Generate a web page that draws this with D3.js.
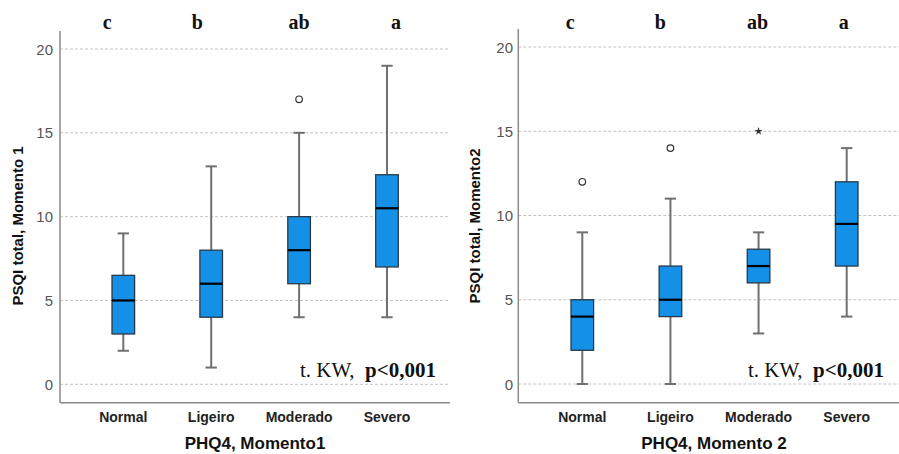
<!DOCTYPE html>
<html>
<head>
<meta charset="utf-8">
<script src="https://cdn.jsdelivr.net/npm/d3@7"></script>
<style>
  body { margin: 0; background: #fff; }
  svg { display: block; }
</style>
</head>
<body>
<div id="graph_here"></div>
<script>
// categories and tick labels
const categories = ["Normal", "Ligeiro", "Moderado", "Severo"];
const letters = ["c", "b", "ab", "a"];
const yTicks = [0, 5, 10, 15, 20];

// Momento 1: [min, q1, median, q3, max]
const m1Stats = [
  [2, 3, 5, 6.5, 9],
  [1, 4, 6, 8, 13],
  [4, 6, 8, 10, 15],
  [4, 7, 10.5, 12.5, 19]
];
const m1Outliers = [[], [], [17], []];
const m1Extremes = [[], [], [], []];

// Momento 2
const m2Stats = [
  [0, 2, 4, 5, 9],
  [0, 4, 5, 7, 11],
  [3, 6, 7, 8, 9],
  [4, 7, 9.5, 12, 14]
];
const m2Outliers = [[12], [14], [], []];
const m2Extremes = [[], [], [15], []];

function drawchart(){
    const width = 899;
    const height = 454;

    var svg = d3.select('#graph_here')
      .append('svg')
      .attr('width', width)
      .attr('height', height);

    const panels = [
      {stats: m1Stats, out: m1Outliers, ext: m1Extremes,
       axisX: 60, right: 450, yTop: 31, yBottom: 402.7, y0: 384.3, y20: 49,
       x0: 123.3, x3: 387, tickRight: 53,
       ytitle: "PSQI total, Momento 1", ytitleX: 18,
       xtitle: "PHQ4, Momento1", xtitleX: 255,
       letterOff: [-16, -14, 0, 9], kwRight: 436},
      {stats: m2Stats, out: m2Outliers, ext: m2Extremes,
       axisX: 518.3, right: 899, yTop: 29, yBottom: 402.7, y0: 384, y20: 47,
       x0: 582.3, x3: 846.7, tickRight: 513,
       ytitle: "PSQI total, Momento2", ytitleX: 475,
       xtitle: "PHQ4, Momento 2", xtitleX: 714,
       letterOff: [-12, -10, -1, -3], kwRight: 884}
    ];

    const boxW = 22.6;
    const capW = 11.3;

    panels.forEach(p => {
        const g = svg.append('g');
        const yScale = d3.scaleLinear().domain([0, 20]).range([p.y0, p.y20]);
        const xScale = d3.scalePoint().domain(categories).range([p.x0, p.x3]);

        // grid
        g.selectAll('line.grid')
          .data(yTicks)
          .enter().append('line')
          .attr('x1', p.axisX).attr('x2', p.right)
          .attr('y1', d => yScale(d)).attr('y2', d => yScale(d))
          .attr('stroke', '#c4c4c4')
          .attr('stroke-width', 1)
          .attr('stroke-dasharray', '3,2');

        // axes lines
        g.append('line')
          .attr('x1', p.axisX).attr('x2', p.axisX)
          .attr('y1', p.yTop).attr('y2', p.yBottom)
          .attr('stroke', '#8a8a8a').attr('stroke-width', 1.5);
        g.append('line')
          .attr('x1', p.axisX).attr('x2', p.right)
          .attr('y1', p.yBottom).attr('y2', p.yBottom)
          .attr('stroke', '#8a8a8a').attr('stroke-width', 1.5);

        // y tick labels
        g.selectAll('text.ytick')
          .data(yTicks)
          .enter().append('text')
          .attr('x', p.tickRight)
          .attr('y', d => yScale(d) + 5.5)
          .attr('text-anchor', 'end')
          .style('font-family', 'Liberation Sans, Arial, sans-serif')
          .style('font-size', '15px')
          .style('fill', '#555')
          .text(d => d);

        // category labels
        g.selectAll('text.cat')
          .data(categories)
          .enter().append('text')
          .attr('x', d => xScale(d))
          .attr('y', 422.3)
          .attr('text-anchor', 'middle')
          .style('font-family', 'Liberation Sans, Arial, sans-serif')
          .style('font-size', '14px')
          .style('font-weight', 'bold')
          .style('fill', '#222')
          .text(d => d);

        // boxes
        const boxes = g.selectAll('g.box')
          .data(p.stats)
          .enter().append('g');

        boxes.append('line')
          .attr('x1', (d, i) => xScale(categories[i]))
          .attr('x2', (d, i) => xScale(categories[i]))
          .attr('y1', d => yScale(d[0]))
          .attr('y2', d => yScale(d[4]))
          .attr('stroke', '#707070').attr('stroke-width', 2);

        [0, 4].forEach(k => {
            boxes.append('line')
              .attr('x1', (d, i) => xScale(categories[i]) - capW / 2)
              .attr('x2', (d, i) => xScale(categories[i]) + capW / 2)
              .attr('y1', d => yScale(d[k]))
              .attr('y2', d => yScale(d[k]))
              .attr('stroke', '#707070').attr('stroke-width', 2);
        });

        boxes.append('rect')
          .attr('x', (d, i) => xScale(categories[i]) - boxW / 2)
          .attr('width', boxW)
          .attr('y', d => yScale(d[3]))
          .attr('height', d => yScale(d[1]) - yScale(d[3]))
          .attr('fill', '#1490e6')
          .attr('stroke', '#2a3a48')
          .attr('stroke-width', 1.3);

        boxes.append('line')
          .attr('x1', (d, i) => xScale(categories[i]) - boxW / 2)
          .attr('x2', (d, i) => xScale(categories[i]) + boxW / 2)
          .attr('y1', d => yScale(d[2]))
          .attr('y2', d => yScale(d[2]))
          .attr('stroke', '#000').attr('stroke-width', 2.2);

        // outliers (circles)
        p.out.forEach((vals, i) => {
            g.selectAll(null)
              .data(vals)
              .enter().append('circle')
              .attr('cx', xScale(categories[i]))
              .attr('cy', d => yScale(d))
              .attr('r', 3.3)
              .attr('fill', 'none')
              .attr('stroke', '#333')
              .attr('stroke-width', 1.2);
        });

        // extremes (stars)
        p.ext.forEach((vals, i) => {
            g.selectAll(null)
              .data(vals)
              .enter().append('path')
              .attr('transform', d => 'translate(' + xScale(categories[i]) + ',' + yScale(d) + ')')
              .attr('d', d3.symbol().type(d3.symbolStar).size(20))
              .attr('fill', '#333');
        });

        // significance letters
        g.selectAll('text.letter')
          .data(letters)
          .enter().append('text')
          .attr('x', (d, i) => xScale(categories[i]) + p.letterOff[i])
          .attr('y', 29)
          .attr('text-anchor', 'middle')
          .style('font-family', 'Liberation Serif, Times New Roman, serif')
          .style('font-size', '20px')
          .style('font-weight', 'bold')
          .style('fill', '#111')
          .text(d => d);

        // KW test text
        const kw = g.append('text')
          .attr('x', p.kwRight)
          .attr('y', 376.5)
          .attr('text-anchor', 'end')
          .style('font-family', 'Liberation Serif, Times New Roman, serif')
          .style('font-size', '21px')
          .style('fill', '#111');
        kw.append('tspan').text('t. KW,\u00a0\u00a0');
        kw.append('tspan').style('font-weight', 'bold').text('p<0,001');

        // axis titles
        g.append('text')
          .attr('transform', 'translate(' + p.ytitleX + ',226) rotate(-90)')
          .attr('text-anchor', 'middle')
          .attr('dy', '0.35em')
          .style('font-family', 'Liberation Sans, Arial, sans-serif')
          .style('font-size', '15px')
          .style('font-weight', 'bold')
          .style('fill', '#111')
          .text(p.ytitle);

        g.append('text')
          .attr('x', p.xtitleX)
          .attr('y', 449)
          .attr('text-anchor', 'middle')
          .style('font-family', 'Liberation Sans, Arial, sans-serif')
          .style('font-size', '17px')
          .style('font-weight', 'bold')
          .style('fill', '#111')
          .text(p.xtitle);
    });
}

window.addEventListener('load', drawchart);
</script>
</body>
</html>
